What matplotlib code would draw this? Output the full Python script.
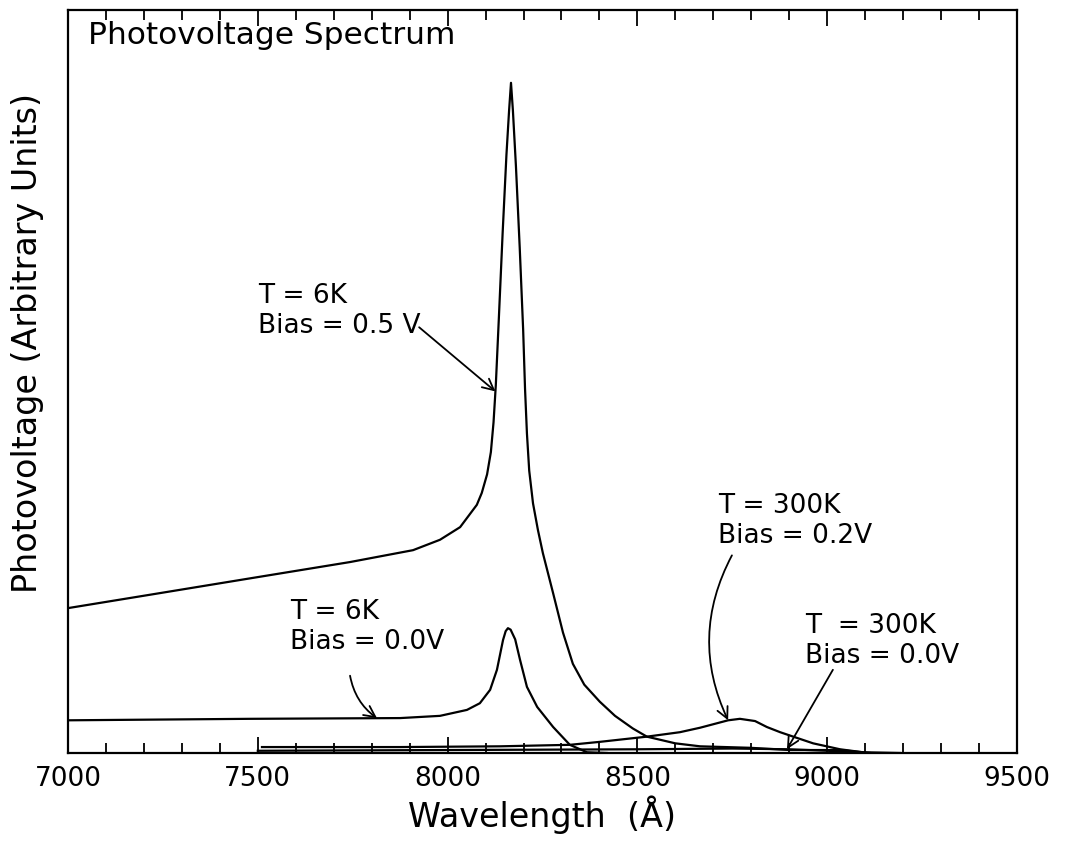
"""Photovoltage spectrum of the sample at two temperatures and two bias values."""
import numpy as np
from matplotlib import pyplot as plt

# T = 6 K, bias 0.5 V
wl_6k_05 = [7000, 7216, 7479, 7743, 7909, 7980, 8033, 8077, 8090, 8104, 8114,
            8121, 8127, 8135, 8145, 8155, 8162, 8167, 8172, 8180, 8190, 8199,
            8204, 8209, 8215, 8225, 8238, 8251, 8278, 8304, 8330, 8360, 8401,
            8441, 8488, 8525, 8600, 8665, 8797, 8902, 9034, 9113]
pv_6k_05 = [19.5, 21.3, 23.5, 25.7, 27.3, 28.7, 30.4, 33.4, 35.0, 37.5, 40.5,
            44.5, 49.5, 58.5, 70.0, 80.5, 86.5, 90.2, 86.5, 79.0, 68.0, 57.0,
            49.0, 43.0, 38.0, 33.6, 30.0, 26.9, 21.5, 16.2, 12.0, 9.2, 6.9,
            5.0, 3.3, 2.2, 1.3, 0.9, 0.7, 0.4, 0.4, 0.0]

# T = 6 K, bias 0.0 V
wl_6k_00 = [7000, 7479, 7875, 7980, 8051, 8085, 8112, 8130, 8146, 8153, 8159,
            8166, 8178, 8191, 8209, 8236, 8278, 8322, 8367, 8420]
pv_6k_00 = [4.4, 4.6, 4.7, 5.0, 5.8, 6.7, 8.5, 11.2, 15.2, 16.4, 16.8,
            16.6, 15.3, 12.5, 8.9, 6.2, 3.5, 1.1, 0.1, 0.0]

# T = 300 K, bias 0.2 V
wl_300k_02 = [7511, 7875, 8138, 8322, 8401, 8525, 8612, 8665, 8739, 8770, 8810,
              8841, 8876, 8928, 8963, 9034, 9094, 9192]
pv_300k_02 = [0.8, 0.8, 0.9, 1.1, 1.5, 2.2, 2.8, 3.4, 4.4, 4.6, 4.3,
              3.5, 2.8, 1.9, 1.3, 0.5, 0.1, 0.0]

# T = 300 K, bias 0.0 V
wl_300k_00 = [7500, 8000, 8500, 8750, 8900, 9000, 9100]
pv_300k_00 = [0.3, 0.4, 0.5, 0.6, 0.5, 0.3, 0.0]

X_MAJOR = np.arange(7000, 9501, 500)
X_MINOR = np.arange(7000, 9501, 100)

LINE_W = 1.6
TEXT_SIZE = 19
ARROW = dict(arrowstyle='->', lw=1.3, color='black', shrinkA=0, shrinkB=0,
             mutation_scale=20)

plt.rcParams['font.family'] = ['DejaVu Sans']

fig = plt.figure(figsize=(10.81, 8.5), dpi=100)
fig.patch.set_facecolor('white')
ax = fig.add_axes([68 / 1081, 1 - 753 / 850, 949 / 1081, 743 / 850])

for wl, pv in [(wl_6k_05, pv_6k_05), (wl_6k_00, pv_6k_00),
               (wl_300k_02, pv_300k_02), (wl_300k_00, pv_300k_00)]:
    ax.plot(wl, pv, color='black', lw=LINE_W)

ax.set_xlim(7000, 9500)
ax.set_ylim(0, 100)
ax.set_xticks(X_MAJOR)
ax.set_xticks(X_MINOR, minor=True)
ax.set_yticks([])
ax.tick_params(axis='x', which='both', direction='in', top=True, bottom=True,
               labelsize=TEXT_SIZE, pad=9, width=1.3)
ax.tick_params(axis='x', which='major', length=11.5)
ax.tick_params(axis='x', which='minor', length=7)
for s in ax.spines.values():
    s.set_linewidth(1.6)

ax.text(0.5, -0.083, 'Wavelength  (Å)', transform=ax.transAxes,
        ha='center', va='center', fontsize=24)
ax.text(-0.043, 0.552, 'Photovoltage (Arbitrary Units)', transform=ax.transAxes,
        ha='center', va='center', rotation=90, fontsize=24)
ax.text(0.021, 0.985, 'Photovoltage Spectrum', transform=ax.transAxes,
        ha='left', va='top', fontsize=22.5)

# curve labels and their arrows
ax.text(7500, 59.5, 'T = 6K\nBias = 0.5 V', fontsize=TEXT_SIZE, va='center')
x_tip = 8126
ax.annotate('', xy=(x_tip, np.interp(x_tip, wl_6k_05, pv_6k_05)),
            xytext=(7925, 57.3), arrowprops=ARROW)

ax.text(7585, 17.0, 'T = 6K\nBias = 0.0V', fontsize=TEXT_SIZE, va='center')
x_tip = 7814
ax.annotate('', xy=(x_tip, np.interp(x_tip, wl_6k_00, pv_6k_00)),
            xytext=(7743, 10.4),
            arrowprops=dict(ARROW, connectionstyle='arc3,rad=0.2'))

ax.text(8712, 31.2, 'T = 300K\nBias = 0.2V', fontsize=TEXT_SIZE, va='center')
x_tip = 8739
ax.annotate('', xy=(x_tip, np.interp(x_tip, wl_300k_02, pv_300k_02)),
            xytext=(8749, 26.6),
            arrowprops=dict(ARROW, connectionstyle='arc3,rad=0.25'))

ax.text(8941, 15.1, 'T  = 300K\nBias = 0.0V', fontsize=TEXT_SIZE, va='center')
x_tip = 8894
ax.annotate('', xy=(x_tip, np.interp(x_tip, wl_300k_00, pv_300k_00)),
            xytext=(9015, 11.2), arrowprops=ARROW)

plt.savefig('out.png', dpi=100)
